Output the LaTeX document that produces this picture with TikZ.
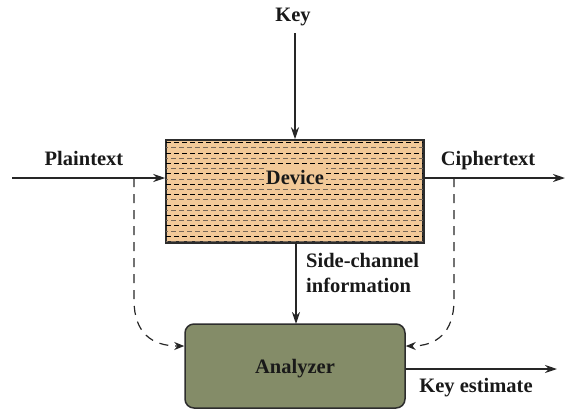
\documentclass[tikz,border=0pt]{standalone}
\usepackage{fontspec}
\setmainfont{Liberation Serif}
\usetikzlibrary{arrows.meta,calc}
\definecolor{devfill}{RGB}{242,201,152}
\definecolor{anafill}{RGB}{132,140,104}
\definecolor{edgec}{RGB}{45,45,45}
\definecolor{hatchgray}{RGB}{120,105,90}
\begin{document}
\begin{tikzpicture}[x=1pt,y=-1pt,
  lbl/.style={font=\bfseries\fontsize{20.5}{24}\selectfont, text=black!90, inner sep=0pt, anchor=base},
  flow/.style={line width=2.2pt, draw=black!85, -{Stealth[length=12pt,width=8pt]}},
  side/.style={line width=1.2pt, draw=black!85, dash pattern=on 9pt off 7pt, -{Stealth[length=10pt,width=8pt]}},
  box/.style={draw=edgec, line width=1.5pt}]
\useasboundingbox (0,0) rectangle (567,413);
% Device
\node[box, fill=devfill, minimum width=257pt, minimum height=102pt, inner sep=0pt] (dev) at (294.5,191) {};
\begin{scope}
\clip (dev.south west) rectangle (dev.north east);
\foreach \i in {0,...,19}{
  \pgfmathtruncatemacro\odd{mod(\i,2)}
  \ifnum\odd=0 \def\col{black}\def\ph{0pt}\else\def\col{hatchgray}\def\ph{3pt}\fi
  \draw[draw=\col, line width=0.8pt, dash pattern=on 5pt off 3pt, dash phase=\ph] (166,142.5+\i*5.2) -- (423,142.5+\i*5.2);
}
\end{scope}
\draw[box] (dev.south west) rectangle (dev.north east);
\node[lbl, fill=devfill, inner sep=2pt] (devt) at (295,184) {Device};
% Analyzer
\node[box, fill=anafill, rounded corners=9pt, minimum width=220pt, minimum height=84pt] (ana) at (295,366) {};
\node[lbl] (anat) at (295,373) {Analyzer};
% Labels
\node[lbl] (keyt) at (293,21) {Key};
\node[lbl] (ptt) at (84,165) {Plaintext};
\node[lbl] (ctt) at (488,165) {Ciphertext};
\node[lbl, anchor=base west] (sc1) at (306,267) {Side-channel};
\node[lbl, anchor=base west] (sc2) at (306,292) {information};
\node[lbl] (ket) at (476,392) {Key estimate};
% Coordinates
\coordinate (keytop) at (295,33);
\coordinate (ptin) at (12,178);
\coordinate (ctout) at (565,178);
\coordinate (keout) at (557,369);
\coordinate (pbr) at (134,178);
\coordinate (cbr) at (454,178);
% Arrows
\draw[flow] (keytop) -- (keytop |- dev.north);
\draw[flow] (ptin) -- (ptin -| dev.west);
\draw[flow] (ctout -| dev.east) -- (ctout);
\draw[flow] (296,242) -- (296,324);
\draw[flow] (keout -| ana.east) -- (keout);
% Dashed side paths
\draw[side] (pbr) -- (134,300) .. controls (134,333) and (152,346) .. ([yshift=20pt]ana.west);
\draw[side] (cbr) -- (454,300) .. controls (454,333) and (436,346) .. ([yshift=20pt]ana.east);
\end{tikzpicture}
\end{document}
